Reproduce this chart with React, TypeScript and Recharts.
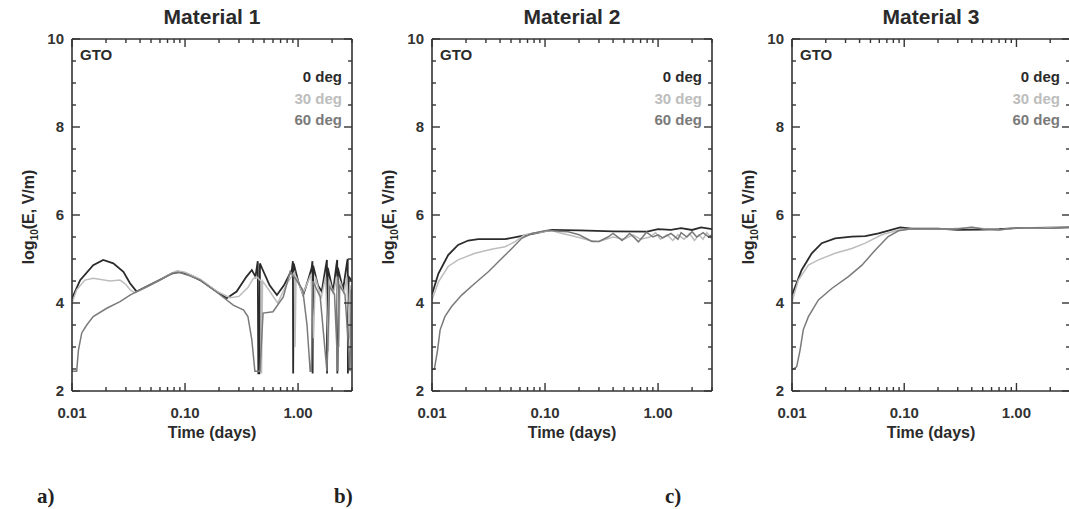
import React from "react";
import { Line, LineChart, XAxis, YAxis } from "recharts";

type Pt = [number, number];

const materials = ["Material 1", "Material 2", "Material 3"];
const panelLetters = ["a)", "b)", "c)"];
const angleLabels = ["0 deg", "30 deg", "60 deg"];
const angleColors = ["#2b2b2b", "#bdbdbd", "#7a7a7a"];

const majorTimes = [0.01, 0.1, 1];
const majorTimeLabels = ["0.01", "0.10", "1.00"];
const minorTimes = [0.02, 0.03, 0.04, 0.05, 0.06, 0.07, 0.08, 0.09, 0.2, 0.3, 0.4, 0.5, 0.6, 0.7, 0.8, 0.9, 2, 3];
const majorLogE = [2, 4, 6, 8, 10];
const minorLogE = [2.5, 3, 3.5, 4.5, 5, 5.5, 6.5, 7, 7.5, 8.5, 9, 9.5];

// material 1 (time in days, log10 E)
const m1deg0: Pt[] = [
  [0.01, 4.1], [0.0118, 4.52], [0.0154, 4.86], [0.0189, 4.98], [0.0232, 4.9], [0.0285, 4.71], [0.0326, 4.45],
  [0.0373, 4.26], [0.046, 4.38], [0.06, 4.53], [0.075, 4.66], [0.088, 4.71], [0.11, 4.64], [0.136, 4.52],
  [0.19, 4.26], [0.234, 4.11], [0.286, 4.26], [0.35, 4.6], [0.39, 4.75], [0.42, 4.6], [0.44, 4.95], [0.445, 2.4],
  [0.455, 2.4], [0.46, 4.9], [0.48, 4.79], [0.56, 4.4], [0.65, 4.18], [0.75, 4.4], [0.88, 4.75], [0.9, 4.95],
  [0.905, 2.4], [0.915, 4.9], [1.0, 4.5], [1.11, 4.18], [1.22, 4.5], [1.32, 4.8], [1.34, 4.95], [1.345, 2.4],
  [1.36, 4.85], [1.5, 4.4], [1.62, 4.26], [1.75, 4.8], [1.8, 4.98], [1.805, 2.4], [1.83, 4.8], [2.04, 4.26],
  [2.18, 4.85], [2.22, 4.98], [2.225, 2.4], [2.25, 4.8], [2.5, 4.3], [2.72, 4.95], [2.75, 5.0], [2.76, 2.4],
  [2.8, 4.6], [3.0, 4.5]
];
const m1deg30: Pt[] = [
  [0.01, 4.0], [0.011, 4.3], [0.013, 4.52], [0.0154, 4.56], [0.0217, 4.5], [0.0266, 4.52], [0.03, 4.42],
  [0.0326, 4.3], [0.036, 4.23], [0.046, 4.37], [0.06, 4.52], [0.075, 4.67], [0.085, 4.73], [0.1, 4.7],
  [0.136, 4.54], [0.19, 4.27], [0.25, 4.12], [0.3, 4.15], [0.36, 4.35], [0.4, 4.55], [0.43, 4.6], [0.47, 4.5],
  [0.475, 2.4], [0.485, 4.5], [0.55, 4.3], [0.66, 4.0], [0.8, 4.45], [0.93, 4.7], [0.94, 3.0], [0.96, 4.6],
  [1.1, 4.2], [1.3, 4.65], [1.37, 3.2], [1.42, 4.6], [1.6, 4.1], [1.75, 4.6], [1.85, 2.9], [1.9, 4.5],
  [2.05, 4.2], [2.2, 4.6], [2.3, 3.0], [2.35, 4.5], [2.55, 4.2], [2.7, 4.6], [2.85, 3.2], [2.9, 4.4], [3.0, 4.3]
];
const m1deg60: Pt[] = [
  [0.01, 2.45], [0.011, 2.45], [0.0114, 2.93], [0.0122, 3.32], [0.0135, 3.5], [0.0154, 3.69], [0.0203, 3.88],
  [0.0266, 4.03], [0.0326, 4.18], [0.0373, 4.26], [0.046, 4.37], [0.06, 4.52], [0.078, 4.68], [0.09, 4.69],
  [0.11, 4.62], [0.136, 4.52], [0.19, 4.25], [0.267, 3.95], [0.33, 3.84], [0.36, 3.69], [0.39, 3.16],
  [0.415, 2.45], [0.46, 2.45], [0.49, 3.77], [0.6, 3.8], [0.74, 4.14], [0.85, 4.71], [0.95, 4.55], [1.1, 4.3],
  [1.2, 3.5], [1.28, 2.45], [1.31, 2.45], [1.35, 4.5], [1.57, 4.14], [1.8, 2.45], [1.9, 4.37], [2.1, 4.2],
  [2.25, 2.45], [2.32, 4.4], [2.6, 4.2], [2.88, 2.45], [2.95, 4.3], [3.0, 4.2]
];

// material 2
const m2deg0: Pt[] = [
  [0.01, 4.2], [0.0114, 4.67], [0.0139, 5.09], [0.017, 5.32], [0.0209, 5.42], [0.0257, 5.45], [0.0443, 5.45],
  [0.058, 5.51], [0.0814, 5.58], [0.114, 5.66], [0.2, 5.65], [0.4, 5.63], [0.8, 5.62], [1.0, 5.68], [1.3, 5.66],
  [1.6, 5.7], [2.0, 5.66], [2.4, 5.72], [3.0, 5.68]
];
const m2deg30: Pt[] = [
  [0.01, 4.07], [0.0114, 4.48], [0.0139, 4.83], [0.017, 4.98], [0.024, 5.13], [0.0337, 5.22], [0.0443, 5.28],
  [0.054, 5.39], [0.066, 5.55], [0.0872, 5.6], [0.114, 5.65], [0.131, 5.6], [0.184, 5.51], [0.25, 5.42],
  [0.3, 5.4], [0.4, 5.5], [0.5, 5.45], [0.6, 5.55], [0.7, 5.45], [0.85, 5.5], [0.95, 5.6], [1.05, 5.45],
  [1.2, 5.55], [1.35, 5.42], [1.5, 5.55], [1.7, 5.45], [1.9, 5.58], [2.1, 5.42], [2.3, 5.55], [2.5, 5.45],
  [2.7, 5.6], [3.0, 5.45]
];
const m2deg60: Pt[] = [
  [0.01, 2.48], [0.0105, 2.5], [0.0112, 2.93], [0.0118, 3.39], [0.013, 3.69], [0.0149, 3.92], [0.0183, 4.18],
  [0.024, 4.45], [0.0315, 4.71], [0.0413, 5.01], [0.0508, 5.24], [0.0622, 5.47], [0.076, 5.58], [0.103, 5.65],
  [0.16, 5.62], [0.2, 5.55], [0.26, 5.4], [0.3, 5.4], [0.36, 5.5], [0.4, 5.58], [0.45, 5.48], [0.48, 5.42],
  [0.52, 5.5], [0.56, 5.58], [0.62, 5.48], [0.67, 5.39], [0.73, 5.5], [0.79, 5.61], [0.9, 5.5], [1.0, 5.55],
  [1.1, 5.48], [1.3, 5.58], [1.5, 5.45], [1.6, 5.6], [1.8, 5.5], [2.0, 5.62], [2.2, 5.5], [2.5, 5.6],
  [2.8, 5.5], [3.0, 5.55]
];

// material 3
const m3deg0: Pt[] = [
  [0.01, 4.18], [0.0122, 4.75], [0.015, 5.13], [0.0184, 5.36], [0.0242, 5.47], [0.0341, 5.51], [0.045, 5.52],
  [0.059, 5.58], [0.078, 5.67], [0.092, 5.72], [0.117, 5.69], [0.2, 5.69], [0.3, 5.66], [0.5, 5.67],
  [0.7, 5.68], [1.0, 5.7], [2.0, 5.71], [3.0, 5.72]
];
const m3deg30: Pt[] = [
  [0.01, 4.03], [0.0114, 4.52], [0.014, 4.86], [0.0172, 4.98], [0.0242, 5.13], [0.0341, 5.24], [0.045, 5.36],
  [0.063, 5.55], [0.089, 5.66], [0.117, 5.69], [0.25, 5.68], [0.4, 5.72], [0.55, 5.68], [0.7, 5.66],
  [1.0, 5.71], [1.5, 5.7], [2.2, 5.72], [3.0, 5.71]
];
const m3deg60: Pt[] = [
  [0.01, 2.48], [0.011, 2.55], [0.0118, 2.93], [0.0126, 3.39], [0.014, 3.69], [0.0172, 4.07], [0.0226, 4.33],
  [0.0318, 4.6], [0.042, 4.86], [0.055, 5.2], [0.072, 5.51], [0.089, 5.64], [0.117, 5.69], [0.3, 5.68],
  [0.4, 5.72], [0.5, 5.68], [0.7, 5.66], [1.0, 5.71], [2.0, 5.7], [3.0, 5.72]
];

const panelSeries: Pt[][][] = [
  [m1deg0, m1deg30, m1deg60],
  [m2deg0, m2deg30, m2deg60],
  [m3deg0, m3deg30, m3deg60]
];

const FONT = "'Liberation Sans', Arial, sans-serif";
const INK = "#333333";
const PLOT_TOP = 39;
const PLOT_BOTTOM = 391;
const PLOT_LEFT = 72;
const TOP_AXIS_H = 10;
const panelOffsets = [0, 360, 720];
const plotWidths = [280, 280, 278];

const xTicks = [...majorTimes, ...minorTimes];
const yTicks = [...majorLogE, ...minorLogE];

function BottomTick({ x, y, payload }: any) {
  const i = majorTimes.indexOf(payload.value);
  const major = i >= 0;
  return (
    <g>
      <line x1={x} x2={x} y1={y} y2={y - (major ? 8 : 4)} stroke={INK} strokeWidth={1.4} />
      {major && (
        <text x={x} y={y + 27} textAnchor="middle" fontFamily={FONT} fontWeight={700} fontSize={15} fill={INK}>
          {majorTimeLabels[i]}
        </text>
      )}
    </g>
  );
}

function TopTick({ x, y, payload }: any) {
  const major = majorTimes.includes(payload.value);
  return <line x1={x} x2={x} y1={y} y2={y + (major ? 8 : 4)} stroke={INK} strokeWidth={1.4} />;
}

function LeftTick({ x, y, payload }: any) {
  const major = majorLogE.includes(payload.value);
  return (
    <g>
      <line x1={x} x2={x + (major ? 8 : 4)} y1={y} y2={y} stroke={INK} strokeWidth={1.4} />
      {major && (
        <text x={x - 8} y={y + 5} textAnchor="end" fontFamily={FONT} fontWeight={700} fontSize={15} fill={INK}>
          {payload.value}
        </text>
      )}
    </g>
  );
}

function RightTick({ x, y, payload }: any) {
  const major = majorLogE.includes(payload.value);
  return <line x1={x} x2={x - (major ? 8 : 4)} y1={y} y2={y} stroke={INK} strokeWidth={1.4} />;
}

function Panel({ index }: { index: number }) {
  const offset = panelOffsets[index];
  const plotW = plotWidths[index];
  const plotRight = PLOT_LEFT + plotW;
  const centerX = PLOT_LEFT + plotW / 2;
  const series = panelSeries[index];
  const axisLine = { stroke: INK, strokeWidth: 1.6 };

  return (
    <div style={{ position: "absolute", left: offset, top: 0, width: 360, height: 509 }}>
      <LineChart
        width={360}
        height={509}
        margin={{ top: PLOT_TOP - TOP_AXIS_H, right: 360 - plotRight - 2, bottom: 509 - PLOT_BOTTOM - 40, left: PLOT_LEFT - 40 }}
      >
        <XAxis xAxisId="bottom" dataKey="t" type="number" scale="log" domain={[0.01, 3]} allowDataOverflow ticks={xTicks} interval={0} height={40} tickSize={0} tickMargin={0} tickLine={false} axisLine={axisLine} tick={(p: any) => <BottomTick {...p} />} />
        <XAxis xAxisId="top" orientation="top" dataKey="t" type="number" scale="log" domain={[0.01, 3]} allowDataOverflow ticks={xTicks} interval={0} height={TOP_AXIS_H} tickSize={0} tickMargin={0} tickLine={false} axisLine={axisLine} tick={(p: any) => <TopTick {...p} />} />
        <YAxis yAxisId="left" type="number" domain={[2, 10]} allowDataOverflow ticks={yTicks} interval={0} width={40} tickSize={0} tickMargin={0} tickLine={false} axisLine={axisLine} tick={(p: any) => <LeftTick {...p} />} />
        <YAxis yAxisId="right" orientation="right" type="number" domain={[2, 10]} allowDataOverflow ticks={yTicks} interval={0} width={2} tickSize={0} tickMargin={0} tickLine={false} axisLine={axisLine} tick={(p: any) => <RightTick {...p} />} />
        {series.map((pts, k) => (
          <Line
            key={angleLabels[k]}
            xAxisId="bottom"
            yAxisId="left"
            data={pts.map(([t, v]) => ({ t, v }))}
            dataKey="v"
            type="linear"
            stroke={angleColors[k]}
            strokeWidth={k === 0 ? 1.8 : 1.5}
            dot={false}
            isAnimationActive={false}
          />
        ))}
      </LineChart>

      <div style={{ position: "absolute", left: centerX - 100, width: 200, top: 5, textAlign: "center", fontFamily: FONT, fontWeight: 700, fontSize: 21, color: "#2a2a2a" }}>
        {materials[index]}
      </div>
      <div style={{ position: "absolute", left: PLOT_LEFT + 8, top: 46, fontFamily: FONT, fontWeight: 700, fontSize: 15, color: "#2a2a2a" }}>
        GTO
      </div>
      {angleLabels.map((label, k) => (
        <div
          key={label}
          style={{ position: "absolute", right: 360 - plotRight + 10, top: 68 + k * 21.5, fontFamily: FONT, fontWeight: 700, fontSize: 15, color: angleColors[k], whiteSpace: "nowrap" }}
        >
          {label}
        </div>
      ))}
      <div style={{ position: "absolute", left: centerX - 100, width: 200, top: 424, textAlign: "center", fontFamily: FONT, fontWeight: 700, fontSize: 16, color: "#2a2a2a" }}>
        Time (days)
      </div>
      <div style={{ position: "absolute", left: 30, top: 217, width: 0, height: 0, fontFamily: FONT, fontWeight: 700, fontSize: 16, color: "#2a2a2a" }}>
        <div style={{ position: "absolute", transform: "translate(-50%, -50%) rotate(-90deg)", whiteSpace: "nowrap" }}>
          log<sub style={{ fontSize: 10 }}>10</sub>(E, V/m)
        </div>
      </div>
    </div>
  );
}

const letterLefts = [37, 334, 665];

export default function App() {
  return (
    <div style={{ position: "absolute", left: 0, top: 0, width: 1069, height: 509, overflow: "hidden", background: "#fff" }}>
      {materials.map((_, i) => (
        <Panel key={materials[i]} index={i} />
      ))}
      {panelLetters.map((letter, i) => (
        <div
          key={letter}
          style={{ position: "absolute", left: letterLefts[i], top: 484, fontFamily: "'Liberation Serif', 'DejaVu Serif', serif", fontWeight: 700, fontSize: 21, color: "#222" }}
        >
          {letter}
        </div>
      ))}
    </div>
  );
}
